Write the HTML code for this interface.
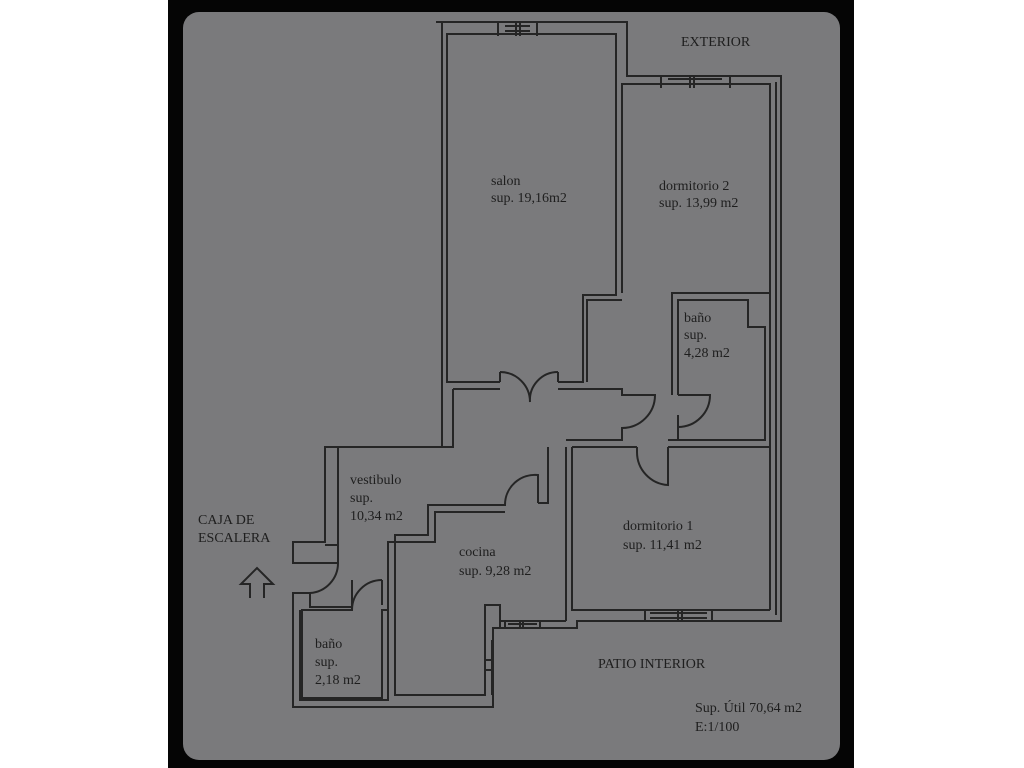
<!DOCTYPE html>
<html><head><style>
html,body{margin:0;padding:0;background:#fff;width:1024px;height:768px;overflow:hidden}
svg{display:block}
text{font-family:"Liberation Serif",serif;fill:#1e1e1e;font-size:14px}
</style></head><body>
<svg width="1024" height="768" viewBox="0 0 1024 768">
<rect x="168" y="0" width="686" height="768" fill="#050505"/>
<rect x="183" y="12" width="657" height="748" rx="16" fill="#7a7a7c"/>
<g fill="none" stroke="#252525" stroke-width="2">
<path d="M436,22 H627 V76 H781 V621 H577 V628 H493 V707 H293 V593 H310"/>
<path d="M310,563 H293 V542 H325 V447 H442 V22"/>
<path d="M500,382 H447 V34 H616 V295 H583 V382 H558"/>
<path d="M500,382 V372 M558,382 V372"/>
<path d="M500,372 A30,30 0 0 1 530,402 M558,372 A28,28 0 0 0 530,402"/>
<path d="M622,293 V84 H770 V293 H672 V395"/>
<path d="M622,300 H587 V382"/>
<path d="M770,293 V610 M776,82 V615"/>
<path d="M678,395 V300 H748 V327 H765 V440 H678 V415"/>
<path d="M678,395 H710 A32,32 0 0 1 678,427"/>
<path d="M453,389 H500 M558,389 H622 V395 H655 A33,33 0 0 1 622,428 V440 H610"/>
<path d="M453,389 V447 H338 V545 H325"/>
<path d="M572,447 H637 M668,447 H770 M572,447 V610 H770"/>
<path d="M566,447 V621 M637,447 V452 A33,33 0 0 0 668,485 V447"/>
<path d="M610,440 H566 M678,440 H668"/>
<path d="M538,503 H548 V447 M538,503 V475 A30,30 0 0 0 505,505 H428 V535 H395 V695 H485 V605 H500 V628"/>
<path d="M500,621 H566 M500,628 H577"/>
<path d="M505,512 H435 V542 H388 V700 H300 V610"/>
<path d="M310,563 H338 A30,30 0 0 1 310,593 M338,545 V563"/>
<path d="M310,593 V607 H352 V580 M352,607 V610 H302 V698 H382 V610 H388 M382,580 V605"/>
<path d="M352,610 A30,30 0 0 1 382,580"/>
<path d="M498,22 V36 M537,22 V36 M505,26 H530 M505,31 H530 M516,22 V36 M520,22 V36"/>
<path d="M661,76 V88 M730,76 V88 M668,79 H722 M668,84 H722 M690,76 V88 M694,76 V88"/>
<path d="M645,610 V621 M712,610 V621 M650,613 H707 M650,618 H707 M678,610 V621 M682,610 V621"/>
<path d="M505,621 V628 M540,621 V628 M508,624 H537 M520,621 V628 M523,621 V628"/>
<path d="M485,640 V695 M492,640 V695 M485,660 H492 M485,670 H492"/>
<path d="M250,598 V584 H241 L257,568 L273,584 H264 V598"/>
</g>
<text x="681" y="46">EXTERIOR</text>
<text x="491" y="185">salon</text>
<text x="491" y="202">sup. 19,16m2</text>
<text x="659" y="190">dormitorio 2</text>
<text x="659" y="207">sup. 13,99 m2</text>
<text x="684" y="322">baño</text>
<text x="684" y="339">sup.</text>
<text x="684" y="357">4,28 m2</text>
<text x="350" y="484">vestibulo</text>
<text x="350" y="502">sup.</text>
<text x="350" y="520">10,34 m2</text>
<text x="459" y="556">cocina</text>
<text x="459" y="575">sup. 9,28 m2</text>
<text x="623" y="530">dormitorio 1</text>
<text x="623" y="549">sup. 11,41 m2</text>
<text x="315" y="648">baño</text>
<text x="315" y="666">sup.</text>
<text x="315" y="684">2,18 m2</text>
<text x="198" y="524">CAJA DE</text>
<text x="198" y="542">ESCALERA</text>
<text x="598" y="668">PATIO INTERIOR</text>
<text x="695" y="712">Sup. Útil 70,64 m2</text>
<text x="695" y="731">E:1/100</text>
</svg>
</body></html>
